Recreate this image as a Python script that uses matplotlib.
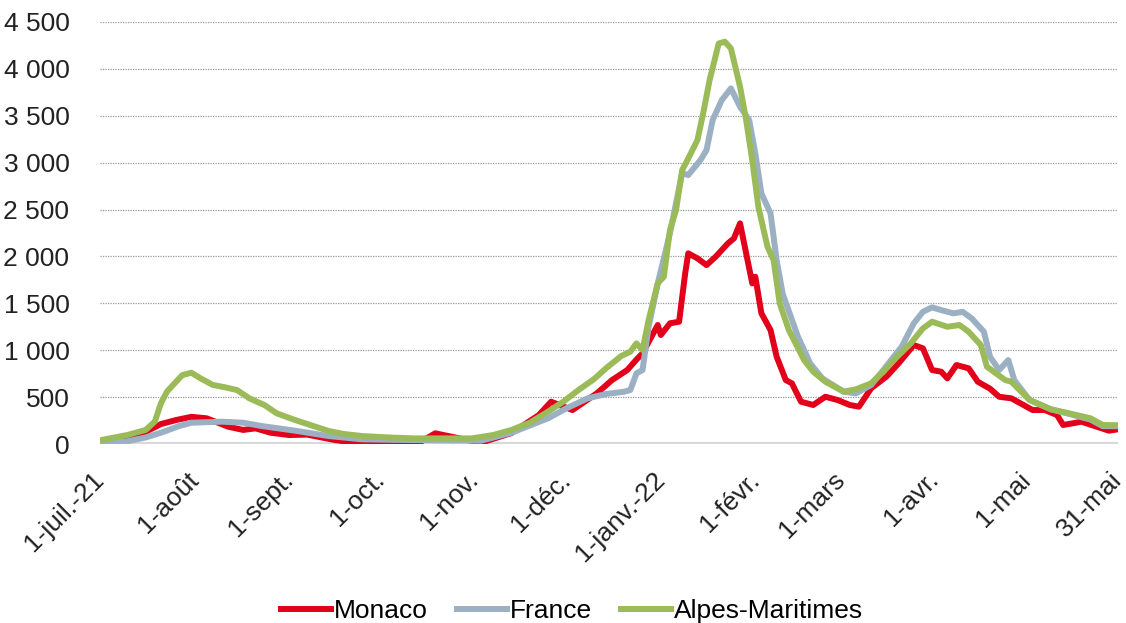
import pandas as pd
import numpy as np
import matplotlib.pyplot as plt

# day offsets from 1 July 2021
monaco_days = [0, 9, 15, 20, 25, 30, 35, 42, 47, 51, 56, 62, 68, 77, 84, 94, 105, 110, 115, 125,
               135, 144, 148, 155, 163, 168, 173, 176, 178, 183, 184, 187, 190, 192, 193, 196, 199,
               202, 206, 208, 210, 212, 214, 215, 217, 220, 222, 225, 227, 230, 234, 238, 242, 246,
               249, 253, 258, 262, 267, 270, 273, 276, 278, 281, 285, 288, 292, 295, 299, 303, 306,
               310, 314, 316, 319, 322, 327, 331, 334]
monaco_vals = [30, 80, 130, 213, 256, 290, 274, 185, 150, 167, 120, 96, 100, 43, 10, 5, 20, 114, 80, 14,
               117, 309, 451, 362, 540, 682, 789, 900, 967, 1269, 1162, 1287, 1304, 1820, 2033, 1980, 1908,
               1997, 2139, 2193, 2353, 2033, 1713, 1784, 1393, 1215, 931, 682, 647, 451, 416, 504, 469, 416,
               398, 594, 718, 860, 1055, 1020, 789, 771, 700, 842, 807, 664, 590, 504, 487, 416, 362,
               362, 309, 203, 220, 238, 185, 142, 157]

france_days = [0, 9, 15, 20, 26, 30, 40, 47, 53, 64, 75, 86, 95, 110, 125, 135, 147, 153, 160, 166,
               172, 174, 176, 178, 180, 183, 187, 191, 193, 197, 199, 201, 204, 207, 210, 213, 215,
               217, 220, 222, 224, 229, 233, 237, 244, 248, 253, 257, 263, 267, 270, 273, 276, 280,
               283, 286, 290, 292, 295, 298, 300, 305, 312, 318, 325, 329, 334]
france_vals = [10, 30, 70, 120, 192, 227, 238, 227, 192, 142, 85, 50, 45, 40, 35, 120, 274, 380, 487, 533,
               558, 576, 753, 789, 1250, 1713, 2250, 2888, 2868, 3027, 3134, 3454, 3667, 3792, 3596, 3454, 3100,
               2672, 2459, 1961, 1600, 1144, 860, 700, 558, 540, 629, 789, 1037, 1287, 1410, 1457, 1428, 1393,
               1410, 1340, 1197, 931, 789, 895, 680, 469, 370, 320, 260, 190, 190]

alpes_days = [0, 9, 15, 18, 20, 22, 25, 27, 30, 33, 37, 41, 45, 49, 54, 58, 64, 70, 75, 80, 86, 94,
              103, 122, 129, 135, 141, 147, 152, 157, 162, 166, 171, 174, 176, 178, 180, 183, 185, 187,
              189, 191, 193, 196, 198, 200, 203, 205, 207, 210, 212, 214, 216, 219, 221, 223, 226, 231,
              234, 238, 244, 248, 253, 257, 261, 266, 270, 273, 278, 282, 285, 289, 291, 294, 297, 299,
              305, 312, 318, 325, 329, 334]
alpes_vals = [40, 96, 150, 240, 435, 560, 665, 735, 760, 700, 630, 605, 575, 487, 415, 327, 256, 192, 139,
              107, 85, 71, 60, 60, 96, 150, 227, 345, 451, 576, 690, 807, 938, 984, 1073, 1002, 1322, 1713,
              1784, 2281, 2494, 2921, 3045, 3240, 3542, 3880, 4271, 4290, 4218, 3809, 3454, 3027, 2530, 2103,
              1961, 1500, 1215, 895, 771, 664, 558, 583, 647, 771, 913, 1073, 1233, 1304, 1250, 1269, 1197,
              1055, 824, 753, 682, 664, 469, 370, 327, 274, 203, 200]

tick_days = [0, 31, 62, 92, 123, 153, 184, 215, 243, 274, 304, 334]
tick_labels = ['1-juil.-21', '1-août', '1-sept.', '1-oct.', '1-nov.', '1-déc.', '1-janv.-22',
               '1-févr.', '1-mars', '1-avr.', '1-mai', '31-mai']

start = pd.Timestamp('2021-07-01')
def to_dates(days):
    return start + pd.to_timedelta(days, unit='D')

plt.rcParams['font.family'] = ['Liberation Sans', 'DejaVu Sans']

fig = plt.figure(figsize=(11.26, 6.23), dpi=100)
ax = fig.add_axes([0.0888, 0.2873, 0.9041, 0.6774])

lw = 4.3
ax.plot(to_dates(monaco_days), monaco_vals, color='#e2001a', lw=lw, label='Monaco', zorder=3)
ax.plot(to_dates(france_days), france_vals, color='#9bb0c3', lw=lw, label='France', zorder=4)
ax.plot(to_dates(alpes_days), alpes_vals, color='#9bbb59', lw=lw, label='Alpes-Maritimes', zorder=5)

ax.set_xlim(to_dates([0])[0], to_dates([334])[0])
ax.set_ylim(0, 4500)
ax.set_yticks(np.arange(0, 4501, 500))
ax.set_yticklabels([f'{v:,}'.replace(',', ' ') for v in range(0, 4501, 500)], fontsize=19, color='#222222')
ax.set_xticks(to_dates(tick_days))
ax.set_xticklabels(tick_labels, fontsize=19, rotation=45, ha='right', va='center',
                   rotation_mode='anchor', color='#222222')
ax.tick_params(axis='both', length=0)
ax.tick_params(axis='y', pad=22)
ax.tick_params(axis='x', pad=23)

for s in ax.spines.values():
    s.set_visible(False)
ax.yaxis.grid(True, linestyle=(0, (1, 1)), color='#999999', lw=0.9)
ax.axhline(0, color='#d9d9d9', lw=3, zorder=2)
ax.set_axisbelow(True)

ax.legend(loc='lower center', bbox_to_anchor=(0.508, -0.021), bbox_transform=fig.transFigure,
          ncol=3, frameon=False, fontsize=19, handlelength=1.9, handletextpad=0.1,
          columnspacing=1.1, borderpad=0)

fig.savefig('out.png', dpi=100)
